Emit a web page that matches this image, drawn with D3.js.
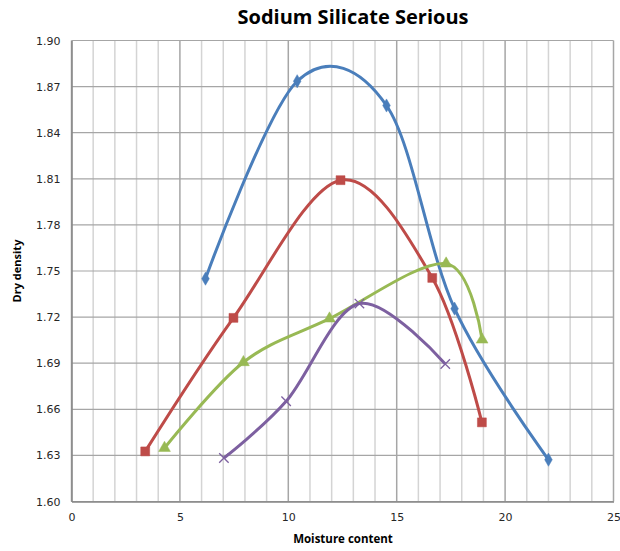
<!DOCTYPE html>
<html><head><meta charset="utf-8">
<script src="https://cdn.jsdelivr.net/npm/d3@7"></script>
<style>body{margin:0;background:#fff}</style>
</head><body>
<svg id="c" width="620" height="551"></svg>
<script>
const title = "Sodium Silicate Serious";
const xTitle = "Moisture content";
const yTitle = "Dry density";
const xTicks = [0,5,10,15,20,25];
const yTicks = [1.60,1.63,1.66,1.69,1.72,1.75,1.78,1.81,1.84,1.87,1.90];
const blueX = [6.18,10.41,14.53,17.67,22.0];
const blueY = [1.745,1.8735,1.8577,1.7255,1.6272];
const redX = [3.40,7.47,12.41,16.64,18.93];
const redY = [1.6326,1.7195,1.8091,1.7455,1.6515];
const greenX = [4.29,7.93,11.9,17.28,18.94];
const greenY = [1.6348,1.6906,1.719,1.7548,1.7053];
const purpleX = [7.03,9.90,13.28,17.24];
const purpleY = [1.6283,1.6652,1.7288,1.6895];

const series = [
  {x:blueX,y:blueY,color:"#4a7ebb",marker:"diamond"},
  {x:redX,y:redY,color:"#be4b48",marker:"square"},
  {x:greenX,y:greenY,color:"#98b954",marker:"triangle"},
  {x:purpleX,y:purpleY,color:"#7d60a0",marker:"cross"}
];

const svg = d3.select("#c");
const L=71.5,R=613.5,T=40.5,B=501.5;
const x = d3.scaleLinear().domain([0,25]).range([L,R]);
const y = d3.scaleLinear().domain([1.60,1.90]).range([B,T]);

const g = svg.append("g");
d3.range(0,26).forEach(v=>{
  g.append("line").attr("x1",x(v)).attr("x2",x(v)).attr("y1",T).attr("y2",B)
   .attr("stroke", v%5===0 ? "#a6a6a6" : "#d4d4d4").attr("stroke-width",1.5);
});
yTicks.forEach(v=>{
  g.append("line").attr("x1",L).attr("x2",R).attr("y1",y(v)).attr("y2",y(v))
   .attr("stroke","#a6a6a6").attr("stroke-width",1.2);
});

const xAxis = svg.append("g").attr("transform",`translate(0,${B})`)
  .call(d3.axisBottom(x).tickValues(xTicks).tickSize(0).tickPadding(12).tickFormat(d3.format("d")));
const yAxis = svg.append("g").attr("transform",`translate(${L},0)`)
  .call(d3.axisLeft(y).tickValues(yTicks).tickSize(0).tickPadding(11).tickFormat(d3.format(".2f")));
[xAxis,yAxis].forEach(a=>{
  a.select(".domain").attr("stroke","#868686").attr("stroke-width",1.5);
  a.selectAll("text").attr("font-family","DejaVu Sans, Verdana, sans-serif").attr("font-size",11).attr("fill","#262626");
});

const line = d3.line().x(d=>x(d[0])).y(d=>y(d[1])).curve(d3.curveCardinal.tension(0));
const sym = {
  diamond: d3.symbol().type(d3.symbolDiamond).size(50),
  square: d3.symbol().type(d3.symbolSquare).size(80),
  triangle: d3.symbol().type(d3.symbolTriangle).size(60),
  cross: d3.symbol().type(d3.symbolX).size(60)
};
series.forEach(s=>{
  const pts = s.x.map((v,i)=>[v,s.y[i]]);
  svg.append("path").attr("d",line(pts)).attr("fill","none").attr("stroke",s.color).attr("stroke-width",3);
  svg.append("g").selectAll("path").data(pts).join("path")
    .attr("transform",d=>`translate(${x(d[0])},${y(d[1])})`)
    .attr("d",sym[s.marker])
    .attr("fill", s.marker==="cross" ? "none" : s.color)
    .attr("stroke", s.color)
    .attr("stroke-width", s.marker==="cross" ? 1.3 : 0.5);
});

svg.append("text").attr("x",353).attr("y",24).attr("text-anchor","middle")
  .attr("font-family","Open Sans, sans-serif").attr("font-weight","bold").attr("font-size",20)
  .attr("fill","#000").text(title);
svg.append("text").attr("x",343).attr("y",543).attr("text-anchor","middle")
  .attr("font-family","Open Sans, sans-serif").attr("font-weight","bold").attr("font-size",11.5)
  .attr("fill","#000").text(xTitle);
svg.append("text").attr("transform","translate(21,271) rotate(-90)").attr("text-anchor","middle")
  .attr("font-family","Open Sans, sans-serif").attr("font-weight","bold").attr("font-size",11)
  .attr("fill","#000").text(yTitle);
</script>
</body></html>
